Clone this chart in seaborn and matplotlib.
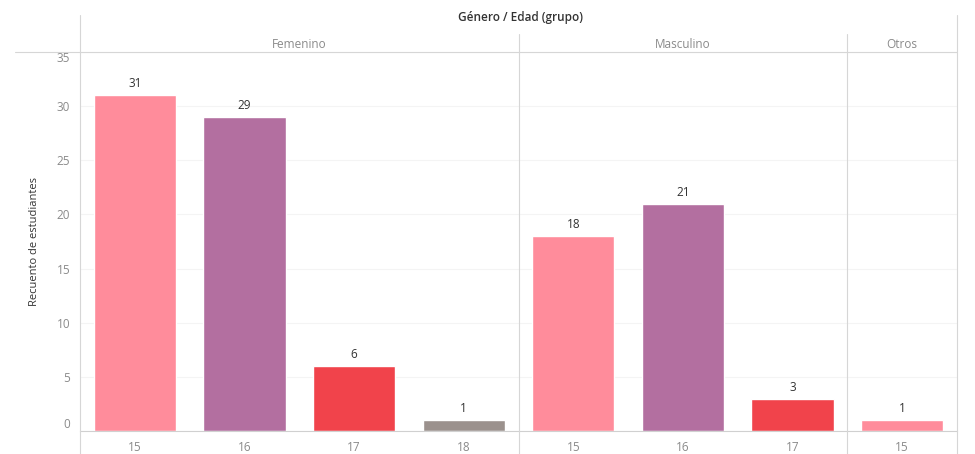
import matplotlib
matplotlib.use("Agg")
import matplotlib.pyplot as plt
from matplotlib.lines import Line2D
import numpy as np
import pandas as pd
import seaborn as sns

# data
genders = ["Femenino", "Femenino", "Femenino", "Femenino",
           "Masculino", "Masculino", "Masculino", "Otros"]
ages = ["15", "16", "17", "18", "15", "16", "17", "15"]
counts = [31, 29, 6, 1, 18, 21, 3, 1]
age_colors = {"15": "#FF8C9B", "16": "#B36FA0", "17": "#F1434B", "18": "#9B918D"}

df = pd.DataFrame({"genero": genders, "edad": ages, "recuento": counts})
df["slot"] = [f"{g} {a}" for g, a in zip(genders, ages)]

sns.set_style("white")
plt.rcParams["font.family"] = ["Open Sans", "DejaVu Sans"]

fig = plt.figure(figsize=(9.75, 4.54), dpi=100)
W, H = 975, 454
left, right, top, bottom = 80, 957, 52, 431
ax = fig.add_axes([left / W, 1 - bottom / H, (right - left) / W, (bottom - top) / H])

sns.barplot(data=df, x="slot", y="recuento", hue="edad", palette=age_colors,
            dodge=False, width=0.75, saturation=1, legend=False, ax=ax)

ax.set_ylim(0, 35)
ax.set_xlim(-0.5, len(df) - 0.5)
ax.set_yticks(np.arange(0, 36, 5))
ax.set_xticks(range(len(df)))
ax.set_xticklabels(ages)
ax.tick_params(axis="both", length=0, labelsize=8.5, labelcolor="#8a8a8a", pad=7)
# end labels are kept inside the plot area, as in the reference
ylabels = ax.get_yticklabels()
ylabels[0].set_va("bottom")
ylabels[-1].set_va("top")
ax.set_xlabel("")
ax.set_ylabel("Recuento de estudiantes", fontsize=8, color="#333333", labelpad=12)
for s in ["top", "right", "left"]:
    ax.spines[s].set_visible(False)
ax.spines["bottom"].set_color("#d0d0d0")
ax.yaxis.grid(True, color="#f4f4f4", linewidth=0.8)
ax.set_axisbelow(True)

for i, v in enumerate(counts):
    ax.text(i, v + 0.45, str(v), ha="center", va="bottom", fontsize=8.5, color="#333333")

# panel separators
bounds = [0]
for i in range(1, len(genders)):
    if genders[i] != genders[i - 1]:
        bounds.append(i)
bounds.append(len(genders))

def fx(px):
    return px / W

def fy(py):
    return 1 - py / H

grey = "#d6d6d6"
fig.add_artist(Line2D([fx(left), fx(left)], [fy(15), fy(460)], color=grey, lw=0.8))
fig.add_artist(Line2D([fx(right), fx(right)], [fy(15), fy(460)], color=grey, lw=0.8))
fig.add_artist(Line2D([fx(15), fx(right)], [fy(top), fy(top)], color=grey, lw=0.8))

slot_w = (right - left) / len(genders)
for b in bounds[1:-1]:
    xpx = left + b * slot_w
    fig.add_artist(Line2D([fx(xpx), fx(xpx)], [fy(34), fy(460)], color=grey, lw=0.8))

for a, b in zip(bounds[:-1], bounds[1:]):
    xc = left + (a + b) / 2 * slot_w
    fig.text(fx(xc), fy(44), genders[a], ha="center", va="center",
             fontsize=8.5, color="#8a8a8a")

fig.text(fx(520), fy(18), "Género / Edad (grupo)", ha="center", va="center",
         fontsize=8.5, color="#333333", fontweight="semibold")

fig.savefig("out.png", dpi=100, facecolor="white")
